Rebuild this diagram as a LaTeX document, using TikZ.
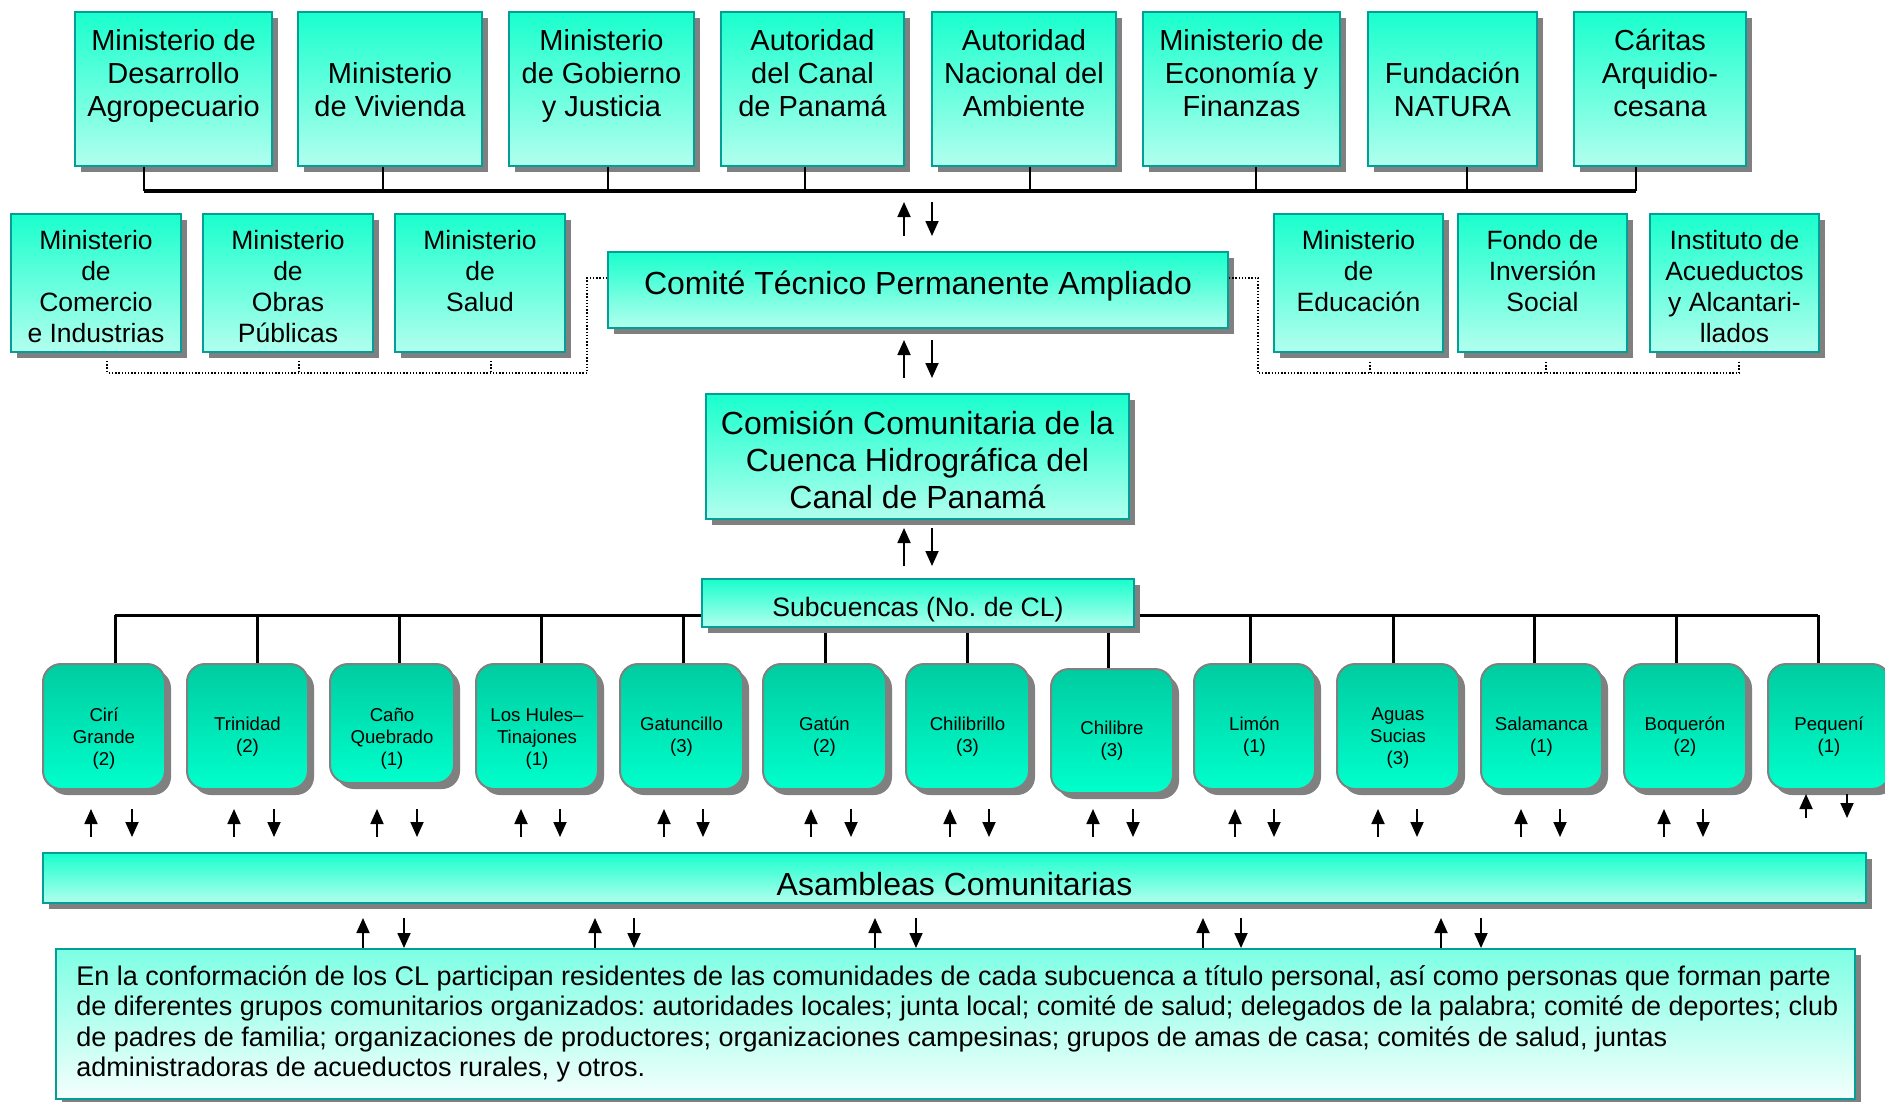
\documentclass[tikz,border=0pt]{standalone}
\usepackage{fontspec}
\setmainfont{Liberation Sans}
\usetikzlibrary{arrows.meta,shadows,fit}

\definecolor{tqTop}{RGB}{25,255,205}
\definecolor{tqBot}{RGB}{178,255,238}
\definecolor{tqEdge}{RGB}{0,160,150}
\definecolor{shd}{RGB}{128,128,128}
\definecolor{sbTop}{RGB}{0,204,160}
\definecolor{sbBot}{RGB}{0,255,204}
\definecolor{sbEdge}{RGB}{128,128,128}
\definecolor{txTop}{RGB}{125,255,228}
\definecolor{txBot}{RGB}{245,255,252}

\newcommand\arrowpair[5]{%
  \coordinate (#1-ua) at (#2,#5); \coordinate (#1-ub) at (#2,#4);
  \coordinate (#1-da) at (#3,#4); \coordinate (#1-db) at (#3,#5);
  \draw[arr] (#1-ua) -- (#1-ub);
  \draw[arr] (#1-da) -- (#1-db);}

\begin{document}
\frenchspacing
\begin{tikzpicture}[x=0.5pt,y=-0.5pt,
  shd3/.style={general shadow={fill=shd, shadow xshift=3pt, shadow yshift=-3pt}},
  tqbox/.style={draw=tqEdge, line width=0.9pt, top color=tqTop, bottom color=tqBot, inner sep=0pt, shd3},
  sbbox/.style={draw=sbEdge, line width=1pt, rounded corners=9pt, top color=sbTop, bottom color=sbBot, inner sep=0pt, shd3},
  txbox/.style={draw=tqEdge, line width=0.9pt, top color=txTop, bottom color=txBot, inner sep=0pt, shd3},
  ttop/.style={align=center, inner sep=0pt, font=\fontsize{14.5}{16.5}\selectfont,
    execute at begin node={\rule{0pt}{1.1em}},
    execute at end node={\rule[-0.35em]{0pt}{0.35em}}},
  trow/.style={align=center, inner sep=0pt, font=\fontsize{13.25}{15.5}\selectfont},
  tbig/.style={align=center, inner sep=0pt, font=\fontsize{16}{18.5}\selectfont},
  tsubc/.style={align=center, inner sep=0pt, font=\fontsize{13.3}{15.5}\selectfont},
  tsmall/.style={align=center, inner sep=0pt, font=\fontsize{9.3}{11}\selectfont},
  tbody/.style={align=left, inner sep=0pt, font=\fontsize{13.5}{15.2}\selectfont},
  arr/.style={line width=0.9pt, -{Triangle[length=7.5pt,width=6.5pt]}},
  bus/.style={line width=1.6pt},
  vl/.style={line width=1pt},
  sbus/.style={line width=1.5pt},
  dotl/.style={line width=0.7pt, dash pattern=on 0.7pt off 0.9pt}
]
\useasboundingbox (0,0) rectangle (1885,1102);
\begin{scope}
\clip (0,0) rectangle (1885,1102);

% ---------- top row ----------
\node[tqbox, fit={(75,12) (272,166)}] (mda) {};
\node[tqbox, fit={(298,12) (482,166)}] (mv) {};
\node[tqbox, fit={(509,12) (694,166)}] (mgj) {};
\node[tqbox, fit={(721,12) (904,166)}] (acp) {};
\node[tqbox, fit={(932,12) (1116,166)}] (anam) {};
\node[tqbox, fit={(1143,12) (1340,166)}] (mef) {};
\node[tqbox, fit={(1368,12) (1537,166)}] (nat) {};
\node[tqbox, fit={(1574,12) (1746,166)}] (car) {};

\node[ttop] (mda-t) at (173.5,78) {Ministerio de\\Desarrollo\\Agropecuario};
\node[ttop] (mv-t) at (390,94.5) {Ministerio\\de Vivienda};
\node[ttop] (mgj-t) at (601.5,78) {Ministerio\\de Gobierno\\y Justicia};
\node[ttop] (acp-t) at (812.5,78) {Autoridad\\del Canal\\de Panamá};
\node[ttop] (anam-t) at (1024,78) {Autoridad\\Nacional del\\Ambiente};
\node[ttop] (mef-t) at (1241.5,78) {Ministerio de\\Economía y\\Finanzas};
\node[ttop] (nat-t) at (1452.5,94.5) {Fundación\\NATURA};
\node[ttop] (car-t) at (1660,78) {Cáritas\\Arquidio-\\cesana};

% top bus
\coordinate (tb1) at (144,191);
\coordinate (tb2) at (383,191);
\coordinate (tb3) at (608,191);
\coordinate (tb4) at (805,191);
\coordinate (tb5) at (1030,191);
\coordinate (tb6) at (1256,191);
\coordinate (tb7) at (1467,191);
\coordinate (tb8) at (1636,191);
\draw[bus] (tb1) -- (tb8);
\draw[vl] (mda.south -| tb1) -- (tb1);
\draw[vl] (mv.south -| tb2) -- (tb2);
\draw[vl] (mgj.south -| tb3) -- (tb3);
\draw[vl] (acp.south -| tb4) -- (tb4);
\draw[vl] (anam.south -| tb5) -- (tb5);
\draw[vl] (mef.south -| tb6) -- (tb6);
\draw[vl] (nat.south -| tb7) -- (tb7);
\draw[vl] (car.south -| tb8) -- (tb8);

% ---------- second row ----------
\node[tqbox, fit={(11,214) (181,352)}] (cei) {};
\node[tqbox, fit={(203,214) (373,352)}] (mop) {};
\node[tqbox, fit={(395,214) (565,352)}] (minsa) {};
\node[tqbox, fit={(1274,214) (1443,352)}] (meduca) {};
\node[tqbox, fit={(1458,214) (1627,352)}] (fis) {};
\node[tqbox, fit={(1650,214) (1819,352)}] (idaan) {};

\node[trow] (cei-t) at (96,287) {Ministerio\\de\\Comercio\\e Industrias};
\node[trow] (mop-t) at (288,287) {Ministerio\\de\\Obras\\Públicas};
\node[trow] (minsa-t) at (480,271) {Ministerio\\de\\Salud};
\node[trow] (meduca-t) at (1358.5,271) {Ministerio\\de\\Educación};
\node[trow] (fis-t) at (1542.5,271) {Fondo de\\Inversión\\Social};
\node[trow] (idaan-t) at (1734.5,287) {Instituto de\\Acueductos\\y Alcantari-\\llados};

% ---------- central column ----------
\node[tqbox, fit={(608,252) (1228,328)}] (comite) {};
\node[tbig] (comite-t) at (918,286.5) {Comité Técnico Permanente Ampliado};
\node[tqbox, fit={(706,394) (1129,519)}] (comision) {};
\node[tbig] (comision-t) at (917.5,460) {Comisión Comunitaria de la\\Cuenca Hidrográfica del\\Canal de Panamá};

% dotted links
\coordinate (dl1) at (587,278);
\coordinate (dl2) at (587,373);
\coordinate (dl3) at (107,373);
\coordinate (dl4) at (299,373);
\coordinate (dl5) at (491,373);
\draw[dotl] (comite.west |- dl1) -- (dl1) -- (dl2) -- (dl3);
\draw[dotl] (107,361) -- (dl3);
\draw[dotl] (299,361) -- (dl4);
\draw[dotl] (491,361) -- (dl5);
\coordinate (dr1) at (1258,278);
\coordinate (dr2) at (1258,373);
\coordinate (dr3) at (1739,373);
\coordinate (dr4) at (1370,373);
\coordinate (dr5) at (1546,373);
\draw[dotl] (comite.east |- dr1) -- (dr1) -- (dr2) -- (dr3);
\draw[dotl] (1370,362) -- (dr4);
\draw[dotl] (1546,362) -- (dr5);
\draw[dotl] (1739,362) -- (dr3);

% arrows in centre
\arrowpair{a1}{904}{932}{202}{236}
\arrowpair{a2}{904}{932}{340}{378}
\arrowpair{a3}{904}{932}{528}{566}

% ---------- subcuencas ----------
\node[sbbox, fit={(43,664) (165,789)}] (s1) {};
\node[sbbox, fit={(187,664) (308,789)}] (s2) {};
\node[sbbox, fit={(330,664) (454,783)}] (s3) {};
\node[sbbox, fit={(476,664) (598,789)}] (s4) {};
\node[sbbox, fit={(620,664) (743,789)}] (s5) {};
\node[sbbox, fit={(763,664) (886,789)}] (s6) {};
\node[sbbox, fit={(906,664) (1029,789)}] (s7) {};
\node[sbbox, fit={(1051,669) (1173,793)}] (s8) {};
\node[sbbox, fit={(1194,664) (1315,789)}] (s9) {};
\node[sbbox, fit={(1337,664) (1459,789)}] (s10) {};
\node[sbbox, fit={(1481,664) (1602,789)}] (s11) {};
\node[sbbox, fit={(1624,664) (1746,789)}] (s12) {};
\node[sbbox, fit={(1768,664) (1890,789)}] (s13) {};

\coordinate (sb1) at (115,615);
\coordinate (sb2) at (257,615);
\coordinate (sb3) at (399,615);
\coordinate (sb4) at (541,615);
\coordinate (sb5) at (683,615);
\coordinate (sb6) at (825,615);
\coordinate (sb7) at (967,615);
\coordinate (sb8) at (1108,615);
\coordinate (sb9) at (1250,615);
\coordinate (sb10) at (1393,615);
\coordinate (sb11) at (1534,615);
\coordinate (sb12) at (1676,615);
\coordinate (sb13) at (1818,615);
\draw[sbus] (sb1) -- (sb13);
\foreach \i in {1,...,13}{\draw[sbus] (sb\i) -- (s\i.north -| sb\i);}

\node[tqbox, fit={(702,579) (1134,627)}] (subc) {};
\node[tsubc] (subc-t) at (918,609.5) {Subcuencas (No. de CL)};

\node[tsmall] (s1-t) at (104,738.5) {Cirí\\Grande\\(2)};
\node[tsmall] (s2-t) at (247.5,736.5) {Trinidad\\(2)};
\node[tsmall] (s3-t) at (392,738.5) {Caño\\Quebrado\\(1)};
\node[tsmall] (s4-t) at (537,738.5) {Los Hules–\\Tinajones\\(1)};
\node[tsmall] (s5-t) at (681.5,736.5) {Gatuncillo\\(3)};
\node[tsmall] (s6-t) at (824.5,736.5) {Gatún\\(2)};
\node[tsmall] (s7-t) at (967.5,736.5) {Chilibrillo\\(3)};
\node[tsmall] (s8-t) at (1112,740.5) {Chilibre\\(3)};
\node[tsmall] (s9-t) at (1254.5,736.5) {Limón\\(1)};
\node[tsmall] (s10-t) at (1398,738.5) {Aguas\\Sucias\\(3)};
\node[tsmall] (s11-t) at (1541.5,736.5) {Salamanca\\(1)};
\node[tsmall] (s12-t) at (1685,736.5) {Boquerón\\(2)};
\node[tsmall] (s13-t) at (1829,736.5) {Pequení\\(1)};

% arrows below subcuencas
\arrowpair{b1}{91}{132}{809}{837}
\arrowpair{b2}{234}{274}{809}{837}
\arrowpair{b3}{377}{417}{809}{837}
\arrowpair{b4}{521}{560}{809}{837}
\arrowpair{b5}{664}{703}{809}{837}
\arrowpair{b6}{811}{851}{809}{837}
\arrowpair{b7}{950}{989}{809}{837}
\arrowpair{b8}{1093}{1133}{809}{837}
\arrowpair{b9}{1235}{1274}{809}{837}
\arrowpair{b10}{1378}{1417}{809}{837}
\arrowpair{b11}{1521}{1560}{809}{837}
\arrowpair{b12}{1664}{1703}{809}{837}
\arrowpair{b13}{1806}{1847}{794}{818}

% ---------- asambleas ----------
\node[tqbox, fit={(43,853) (1866,903)}] (asam) {};
\node[tbig] (asam-t) at (954.5,884) {Asambleas Comunitarias};

\arrowpair{c1}{363}{404}{918}{948}
\arrowpair{c2}{595}{634}{918}{948}
\arrowpair{c3}{875}{916}{918}{948}
\arrowpair{c4}{1203}{1241}{918}{948}
\arrowpair{c5}{1441}{1481}{918}{948}

% ---------- text box ----------
\node[txbox, fit={(56,949) (1855,1099)}] (texto) {};
\node[tbody, anchor=west] (texto-t) at (76,1024) {En la conformación de los CL participan residentes de las comunidades de cada subcuenca a título personal, así como personas que forman parte\\
de diferentes grupos comunitarios organizados: autoridades locales; junta local; comité de salud; delegados de la palabra; comité de deportes; club\\
de padres de familia; organizaciones de productores; organizaciones campesinas; grupos de amas de casa; comités de salud, juntas\\
administradoras de acueductos rurales, y otros.};

\end{scope}
\end{tikzpicture}
\end{document}
